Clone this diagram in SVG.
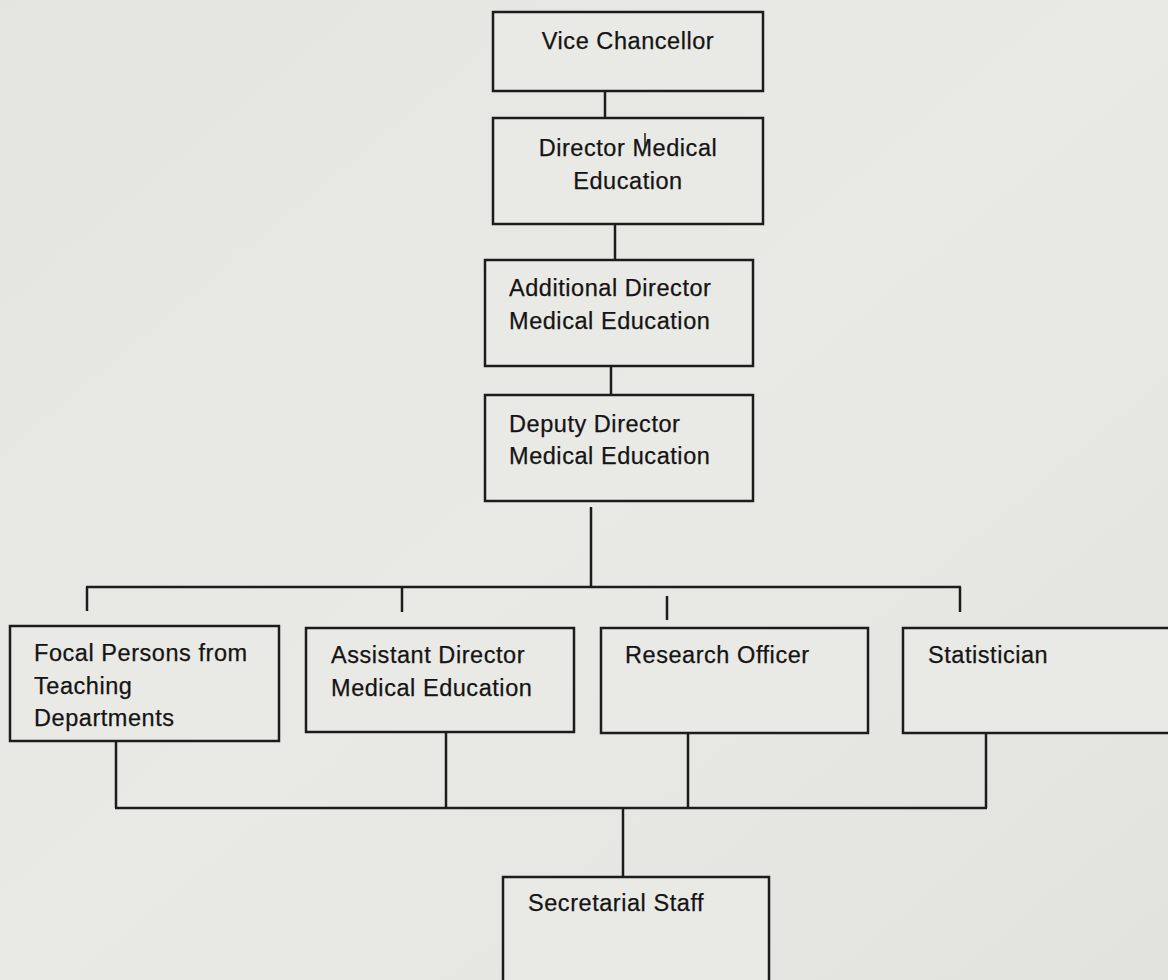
<svg xmlns="http://www.w3.org/2000/svg" width="1168" height="980" viewBox="0 0 1168 980">
<style>
.box{fill:#e9e9e5;stroke:#1c1c1c;stroke-width:2.5}
.t{font-family:"Liberation Sans",Arial,sans-serif;font-size:23.5px;fill:#141414;letter-spacing:0.55px;stroke:#141414;stroke-width:0.25}
.c{text-anchor:middle}
.ln{stroke:#1c1c1c;stroke-width:2.5;fill:none}
</style>
<defs>
<linearGradient id="bg" x1="0" y1="0" x2="1" y2="1">
<stop offset="0" stop-color="#e4e4e0"/>
<stop offset="0.5" stop-color="#e9e9e5"/>
<stop offset="1" stop-color="#e2e2de"/>
</linearGradient>
</defs>
<rect width="1168" height="980" fill="url(#bg)"/>
<g id="connectors">
<line class="ln" x1="605" y1="91" x2="605" y2="118"/>
<line class="ln" x1="615" y1="224" x2="615" y2="260"/>
<line class="ln" x1="611" y1="366" x2="611" y2="395"/>
<line class="ln" x1="591" y1="507" x2="591" y2="587"/>
<line class="ln" x1="86" y1="587" x2="961" y2="587"/>
<line class="ln" x1="87" y1="587" x2="87" y2="611"/>
<line class="ln" x1="402" y1="587" x2="402" y2="612"/>
<line class="ln" x1="667" y1="596" x2="667" y2="620"/>
<line class="ln" x1="960" y1="587" x2="960" y2="612"/>
<line class="ln" x1="116" y1="733" x2="116" y2="808"/>
<line class="ln" x1="446" y1="732" x2="446" y2="808"/>
<line class="ln" x1="688" y1="733" x2="688" y2="808"/>
<line class="ln" x1="986" y1="733" x2="986" y2="808"/>
<line class="ln" x1="115" y1="808" x2="987" y2="808"/>
<line class="ln" x1="623" y1="808" x2="623" y2="877"/>
</g>
<g id="vice-chancellor">
<rect class="box" x="493" y="12" width="270" height="79"/>
<text class="t c" x="628" y="49">Vice Chancellor</text>
</g>
<g id="director-me">
<rect class="box" x="493" y="118" width="270" height="106"/>
<text class="t c" x="628" y="156">Director Medical</text>
<text class="t c" x="628" y="189">Education</text>
<line x1="645" y1="133" x2="645" y2="148" stroke="#1c1c1c" stroke-width="1.5"/>
</g>
<g id="additional-director">
<rect class="box" x="485" y="260" width="268" height="106"/>
<text class="t" x="509" y="296">Additional Director</text>
<text class="t" x="509" y="329">Medical Education</text>
</g>
<g id="deputy-director">
<rect class="box" x="485" y="395" width="268" height="106"/>
<text class="t" x="509" y="432">Deputy Director</text>
<text class="t" x="509" y="464">Medical Education</text>
</g>
<g id="focal-persons">
<rect class="box" x="10" y="626" width="269" height="115"/>
<text class="t" x="34" y="661">Focal Persons from</text>
<text class="t" x="34" y="694">Teaching</text>
<text class="t" x="34" y="726">Departments</text>
</g>
<g id="assistant-director">
<rect class="box" x="306" y="628" width="268" height="104"/>
<text class="t" x="331" y="663">Assistant Director</text>
<text class="t" x="331" y="696">Medical Education</text>
</g>
<g id="research-officer">
<rect class="box" x="601" y="628" width="267" height="105"/>
<text class="t" x="625" y="663">Research Officer</text>
</g>
<g id="statistician">
<rect class="box" x="903" y="628" width="280" height="105"/>
<text class="t" x="928" y="663">Statistician</text>
</g>
<g id="secretarial-staff">
<rect class="box" x="503" y="877" width="266" height="115"/>
<text class="t" x="528" y="911">Secretarial Staff</text>
</g>
</svg>
